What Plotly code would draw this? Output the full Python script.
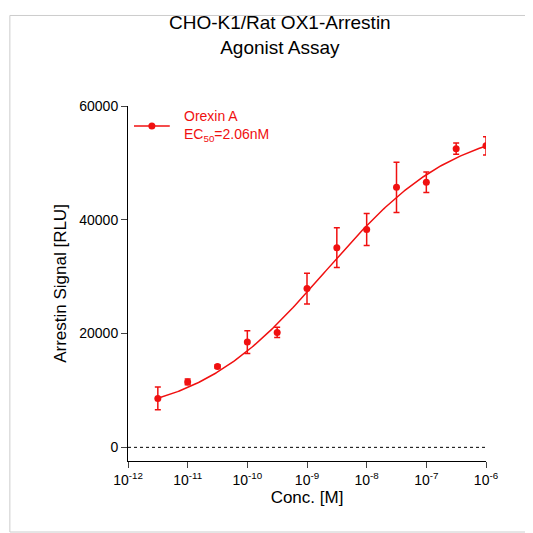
import numpy as np
import plotly.graph_objects as go

log_conc = [-11.5, -11, -10.5, -10, -9.5, -9, -8.5, -8, -7.5, -7, -6.5, -6]
signal = [8600, 11500, 14200, 18500, 20200, 27900, 35100, 38300, 45700, 46600, 52500, 53000]
err = [2000, 500, 300, 2000, 900, 2700, 3500, 2800, 4400, 1800, 1000, 1600]
fit_bottom, fit_top, ec50, hill = 5000, 57000, 2.06e-9, 0.4
y_ticks = [0, 20000, 40000, 60000]

xs = np.linspace(-11.5, -6, 200)
curve = fit_bottom + (fit_top - fit_bottom) / (1 + (ec50 / 10**xs) ** hill)
red = "#f01010"

fig = go.Figure()
fig.add_trace(go.Scatter(x=10**xs, y=curve, mode="lines", line=dict(color=red, width=1.5), showlegend=False))
fig.add_trace(go.Scatter(x=[10**v for v in log_conc], y=signal, mode="markers",
    marker=dict(color=red, size=7), error_y=dict(array=err, color=red, thickness=1.5, width=3),
    showlegend=False))
fig.add_trace(go.Scatter(x=[10**-11.9, 10**-11.3], y=[56500, 56500], mode="lines", line=dict(color=red, width=1.5), showlegend=False))
fig.add_trace(go.Scatter(x=[10**-11.6], y=[56500], mode="markers", marker=dict(color=red, size=7), showlegend=False))
fig.add_annotation(x=-11.1, y=56500, text="Orexin A<br>EC<sub>50</sub>=2.06nM", showarrow=False,
    xanchor="left", yanchor="middle", align="left", font=dict(color=red, size=14))
fig.add_shape(type="line", x0=0, x1=1, xref="x domain", y0=0, y1=0, line=dict(color="black", width=1, dash="dot"))
fig.add_shape(type="rect", xref="paper", yref="paper", x0=-0.33, x1=1.145, y0=-0.2, y1=1.255,
    line=dict(color="#cccccc", width=1))

tv = [1e-12, 1e-11, 1e-10, 1e-9, 1e-8, 1e-7, 1e-6]
tt = [f"10<sup>{e}</sup>" for e in range(-12, -5)]
fig.update_layout(
    width=533, height=533, paper_bgcolor="white", plot_bgcolor="white",
    margin=dict(l=120, r=55, t=98, b=80),
    font=dict(family="Liberation Sans, Arial", size=14, color="black"),
    title=dict(text="CHO-K1/Rat OX1-Arrestin<br>Agonist Assay", x=0.51, xanchor="center", y=0.96, yanchor="top",
               font=dict(size=19)),
    xaxis=dict(type="log", range=[-12, -6], tickvals=tv, ticktext=tt, ticks="outside", ticklen=6,
               showline=True, linecolor="black", showgrid=False, zeroline=False,
               title=dict(text="Conc. [M]", standoff=4)),
    yaxis=dict(range=[-2400, 60000], tickvals=y_ticks, ticktext=[str(v) for v in y_ticks],
               ticks="outside", ticklen=6,
               showline=True, linecolor="black", showgrid=False, zeroline=False,
               title=dict(text="Arrestin Signal [RLU]", standoff=8)),
)
fig.write_html("out.html")
